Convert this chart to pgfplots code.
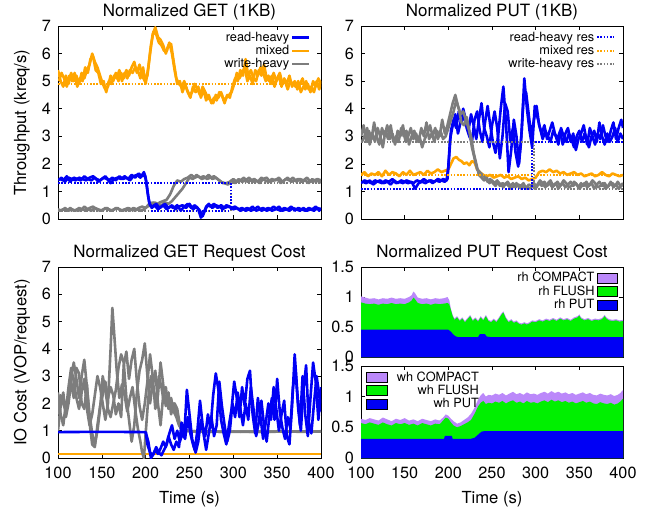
\documentclass[border=0pt]{standalone}
\usepackage{pgfplots}
\pgfplotsset{compat=1.18}
\usepackage{fontspec}
\setmainfont{TeX Gyre Heros}
\definecolor{cblue}{RGB}{0,0,245}
\definecolor{corange}{RGB}{255,165,0}
\definecolor{cgray}{RGB}{125,125,125}
\definecolor{cgreen}{RGB}{0,240,0}
\definecolor{cpurple}{RGB}{187,136,250}
\newcommand\tf{\fontsize{16.3}{19}\selectfont}
\newcommand\ttf{\fontsize{17}{20}\selectfont}
\newcommand\labf{\fontsize{16.7}{19}\selectfont}
\newcommand\lf{\fontsize{12.8}{14}\selectfont}
\pgfplotsset{
  base/.style={scale only axis, xmin=100, xmax=400, xtick={100,150,...,400},
    tick align=inside, major tick length=4bp,
    tick style={black, line width=0.6bp}, axis line style={line width=0.8bp},
    ticklabel style={font=\tf},
    xticklabel style={yshift=-5.5bp}, yticklabel style={xshift=-3.5bp},
    every axis title shift=0pt,
    title style={font=\ttf, at={(0.5,1)}, anchor=base, yshift=9.5bp},
    label style={font=\labf},
    /pgf/number format/assume math mode=true,
    legend style={draw=none, fill=none, font=\lf, inner sep=1bp, row sep=-1.5bp},
  },
  ln/.style={line width=2.6bp, line join=round},
  res/.style={line width=2bp, dash pattern=on 1.6bp off 1.6bp},
  legboxr/.style={legend image code/.code={\fill[##1] (0.3cm,-0.18cm) rectangle (1.04cm,0.18cm);}},
  legboxl/.style={legend image code/.code={\fill[##1] (0cm,-0.18cm) rectangle (0.74cm,0.18cm); \path (1.0cm,0);}},
}
\begin{document}
\begin{tikzpicture}
\useasboundingbox (0,0) rectangle (652bp,-509bp);
% ---------------- top-left
\begin{axis}[base, at={(58bp,-219bp)}, anchor=south west, width=263bp, height=193bp,
  ymin=0, ymax=7, ytick={0,...,7}, xticklabel=\empty,
  title={Normalized GET (1KB)},
  ylabel={Throughput (kreq/s)}, ylabel style={at={(axis description cs:-0.137,0.5)}, anchor=center},
  legend style={at={(0.965,0.985)}, anchor=north east}, legend cell align=right, legend plot pos=right]
\addlegendimage{cblue, line width=2.4bp}\addlegendentry{read-heavy}
\addlegendimage{corange, line width=2.4bp}\addlegendentry{mixed}
\addlegendimage{cgray, line width=2.4bp}\addlegendentry{write-heavy}
\addplot[corange, ln] coordinates {(100,5.4)(103,5.0)(106,4.8)(109,5.2)(112,4.9)(115,5.3)(118,5.0)(121,5.2)(124,4.9)(127,5.3)(130,5.1)(133,5.4)(136,5.6)(139,6.0)(142,5.7)(145,5.5)(148,5.2)(151,4.9)(154,4.7)(157,4.8)(160,5.2)(163,5.0)(166,5.3)(169,5.0)(172,5.3)(175,5.1)(178,5.4)(181,5.2)(184,5.5)(187,5.7)(190,5.3)(193,5.6)(196,5.2)(199,5.0)(202,5.2)(205,6.0)(208,6.7)(211,6.95)(214,6.6)(217,6.5)(220,6.3)(223,6.0)(226,6.3)(229,6.35)(232,5.7)(235,5.1)(238,4.9)(241,4.8)(244,5.0)(247,4.7)(250,4.5)(253,4.6)(256,4.9)(259,4.7)(262,4.5)(265,4.8)(268,4.6)(271,4.4)(274,4.3)(277,4.2)(280,4.5)(283,4.4)(286,4.6)(289,4.3)(292,4.4)(295,4.5)(298,4.6)(301,4.9)(304,5.3)(307,5.1)(310,5.3)(313,5.5)(316,5.0)(319,5.2)(322,4.9)(325,5.4)(328,5.2)(331,5.5)(334,5.3)(337,5.0)(340,5.2)(343,4.9)(346,5.3)(349,5.0)(352,5.2)(355,4.8)(358,5.1)(361,4.9)(364,5.2)(367,4.8)(370,5.0)(373,4.7)(376,4.9)(379,5.1)(382,4.7)(385,4.9)(388,4.6)(391,5.0)(394,4.8)(397,5.1)(400,4.9)};
\addplot[corange, ln] coordinates {(101,5.0)(104,5.3)(107,5.1)(110,4.8)(113,5.2)(116,5.0)(119,5.3)(122,4.8)(125,5.1)(128,5.0)(131,5.5)(134,5.3)(137,5.8)(140,5.9)(143,5.4)(146,5.3)(149,4.9)(152,5.0)(155,4.6)(158,5.0)(161,4.9)(164,5.2)(167,5.1)(170,5.4)(173,5.0)(176,5.3)(179,5.1)(182,5.4)(185,5.3)(188,5.5)(191,5.4)(194,5.1)(197,5.5)(200,4.9)(203,5.5)(206,6.3)(209,6.8)(212,6.7)(215,6.4)(218,6.3)(221,6.1)(224,6.1)(227,6.4)(230,6.0)(233,5.4)(236,4.9)(239,5.0)(242,4.6)(245,4.9)(248,4.6)(251,4.4)(254,4.8)(257,4.6)(260,4.8)(263,4.4)(266,4.7)(269,4.3)(272,4.5)(275,4.2)(278,4.4)(281,4.3)(284,4.6)(287,4.5)(290,4.2)(293,4.5)(296,4.4)(299,4.8)(302,5.1)(305,5.0)(308,5.4)(311,5.2)(314,5.8)(317,5.2)(320,5.4)(323,5.1)(326,5.0)(329,5.4)(332,5.2)(335,5.6)(338,5.1)(341,5.0)(344,5.2)(347,4.8)(350,5.1)(353,5.3)(356,4.9)(359,5.0)(362,4.7)(365,5.0)(368,4.9)(371,4.8)(374,5.0)(377,4.6)(380,4.8)(383,5.0)(386,4.7)(389,4.8)(392,4.6)(395,5.0)(398,4.7)(400,5.0)};
\addplot[cgray, ln] coordinates {(100,0.35)(104,0.3)(108,0.4)(112,0.3)(116,0.35)(120,0.3)(124,0.4)(128,0.35)(132,0.3)(136,0.4)(140,0.45)(144,0.35)(148,0.3)(152,0.35)(156,0.4)(160,0.3)(164,0.35)(168,0.4)(172,0.3)(176,0.35)(180,0.4)(184,0.35)(188,0.3)(192,0.4)(196,0.45)(200,0.4)(204,0.55)(208,0.6)(212,0.5)(216,0.6)(220,0.65)(224,0.7)(228,0.9)(232,1.2)(236,1.4)(240,1.35)(244,1.45)(248,1.5)(252,1.6)(256,1.5)(260,1.55)(264,1.45)(268,1.5)(272,1.6)(276,1.45)(280,1.5)(284,1.4)(288,1.3)(292,1.3)(296,1.35)(300,1.45)(304,1.35)(308,1.4)(312,1.5)(316,1.35)(320,1.4)(324,1.45)(328,1.35)(332,1.5)(336,1.4)(340,1.35)(344,1.45)(348,1.4)(352,1.5)(356,1.35)(360,1.45)(364,1.4)(368,1.5)(372,1.35)(376,1.45)(380,1.4)(384,1.5)(388,1.35)(392,1.4)(396,1.45)(400,1.4)};
\addplot[cgray, ln] coordinates {(102,0.3)(106,0.35)(110,0.3)(114,0.4)(118,0.3)(122,0.35)(126,0.3)(130,0.45)(134,0.35)(138,0.3)(142,0.4)(146,0.35)(150,0.3)(154,0.4)(158,0.35)(162,0.3)(166,0.4)(170,0.35)(174,0.3)(178,0.35)(182,0.3)(186,0.4)(190,0.35)(194,0.3)(198,0.35)(202,0.45)(206,0.5)(210,0.6)(214,0.55)(218,0.5)(222,0.6)(226,0.55)(230,0.65)(234,0.8)(238,0.95)(242,1.1)(246,1.3)(250,1.5)(254,1.45)(258,1.6)(262,1.5)(266,1.55)(270,1.45)(274,1.5)(278,1.55)(282,1.45)(286,1.35)(290,1.3)(294,1.25)(298,1.4)(302,1.3)(306,1.45)(310,1.35)(314,1.4)(318,1.5)(322,1.35)(326,1.4)(330,1.3)(334,1.45)(338,1.5)(342,1.35)(346,1.4)(350,1.45)(354,1.3)(358,1.4)(362,1.5)(366,1.35)(370,1.4)(374,1.45)(378,1.35)(382,1.4)(386,1.3)(390,1.45)(394,1.35)(398,1.4)(400,1.3)};
\addplot[cblue, ln] coordinates {(100,1.4)(104,1.5)(108,1.35)(112,1.5)(116,1.45)(120,1.4)(124,1.5)(128,1.45)(132,1.4)(136,1.5)(140,1.55)(144,1.45)(148,1.4)(152,1.5)(156,1.45)(160,1.3)(164,1.45)(168,1.5)(172,1.45)(176,1.55)(180,1.45)(184,1.6)(188,1.5)(192,1.65)(196,1.55)(199,1.6)(201,1.3)(203,0.8)(205,0.5)(208,0.45)(212,0.55)(216,0.4)(220,0.5)(224,0.35)(228,0.45)(232,0.4)(236,0.5)(240,0.3)(244,0.45)(248,0.55)(252,0.4)(256,0.5)(260,0.35)(263,0.05)(266,0.2)(269,0.45)(272,0.55)(276,0.4)(280,0.5)(284,0.45)(288,0.35)(292,0.5)(296,0.45)(300,0.35)(304,0.4)(308,0.3)(312,0.35)(316,0.4)(320,0.3)(324,0.35)(328,0.45)(332,0.3)(336,0.35)(340,0.4)(344,0.3)(348,0.35)(352,0.45)(356,0.3)(360,0.35)(364,0.3)(368,0.4)(372,0.35)(376,0.3)(380,0.4)(384,0.3)(388,0.35)(392,0.3)(396,0.4)(400,0.35)};
\addplot[cblue, ln] coordinates {(102,1.45)(106,1.4)(110,1.55)(114,1.35)(118,1.5)(122,1.45)(126,1.4)(130,1.55)(134,1.45)(138,1.4)(142,1.5)(146,1.35)(150,1.45)(154,1.55)(158,1.4)(162,1.5)(166,1.4)(170,1.55)(174,1.45)(178,1.5)(182,1.4)(186,1.55)(190,1.6)(194,1.5)(198,1.7)(200,1.5)(202,1.0)(204,0.6)(207,0.4)(210,0.5)(214,0.35)(218,0.45)(222,0.55)(226,0.4)(230,0.5)(234,0.35)(238,0.45)(242,0.5)(246,0.4)(250,0.55)(254,0.35)(258,0.45)(262,0.3)(265,0.1)(268,0.35)(271,0.5)(274,0.45)(278,0.55)(282,0.4)(286,0.5)(290,0.4)(294,0.45)(298,0.4)(302,0.45)(306,0.35)(310,0.4)(314,0.3)(318,0.35)(322,0.45)(326,0.3)(330,0.35)(334,0.4)(338,0.3)(342,0.35)(346,0.45)(350,0.35)(354,0.3)(358,0.4)(362,0.35)(366,0.45)(370,0.3)(374,0.4)(378,0.35)(382,0.3)(386,0.4)(390,0.35)(394,0.45)(398,0.3)(400,0.4)};
\addplot[cgray, res] coordinates {(100,0.3)(297,0.3)(297,1.3)(400,1.3)};
\addplot[corange, res] coordinates {(100,4.9)(400,4.9)};
\addplot[cblue, res] coordinates {(100,1.3)(297,1.3)(297,0.3)(205,0.3)};
\end{axis}
% ---------------- top-right
\begin{axis}[base, at={(361bp,-219bp)}, anchor=south west, width=262bp, height=193bp,
  ymin=0, ymax=7, ytick={0,...,7}, xticklabel=\empty,
  title={Normalized PUT (1KB)},
  legend style={at={(0.975,0.985)}, anchor=north east}, legend cell align=right, legend plot pos=right]
\addlegendimage{cblue, res}\addlegendentry{read-heavy res}
\addlegendimage{corange, res}\addlegendentry{mixed res}
\addlegendimage{cgray, res}\addlegendentry{write-heavy res}
\addplot[corange, ln] coordinates {(100,1.6)(104,1.7)(108,1.55)(112,1.65)(116,1.6)(120,1.7)(124,1.55)(128,1.75)(132,1.6)(136,1.7)(140,1.65)(144,1.55)(148,1.7)(152,1.6)(156,1.75)(160,1.6)(164,1.65)(168,1.7)(172,1.6)(176,1.75)(180,1.65)(184,1.7)(188,1.8)(192,1.7)(196,1.75)(200,1.8)(203,2.0)(206,2.2)(209,2.25)(212,2.15)(215,2.1)(218,2.0)(221,2.05)(224,1.95)(227,2.1)(230,2.05)(233,1.8)(236,1.7)(240,1.6)(244,1.55)(248,1.6)(252,1.5)(256,1.55)(260,1.6)(264,1.5)(268,1.55)(272,1.45)(276,1.5)(280,1.55)(284,1.45)(288,1.5)(292,1.4)(296,1.45)(300,1.5)(304,1.7)(308,1.75)(312,1.7)(316,1.8)(320,1.7)(324,1.75)(328,1.65)(332,1.7)(336,1.6)(340,1.65)(344,1.7)(348,1.6)(352,1.65)(356,1.55)(360,1.6)(364,1.65)(368,1.55)(372,1.6)(376,1.7)(380,1.6)(384,1.55)(388,1.65)(392,1.6)(396,1.55)(400,1.6)};
\addplot[cblue, ln] coordinates {(100,1.3)(104,1.4)(108,1.35)(112,1.3)(116,1.4)(120,1.35)(124,1.3)(128,1.4)(132,1.35)(136,1.45)(140,1.3)(144,1.35)(148,1.3)(152,1.4)(156,1.35)(160,1.3)(164,1.4)(168,1.35)(172,1.45)(176,1.35)(180,1.4)(184,1.35)(188,1.45)(192,1.4)(196,1.35)(199,1.45)(201,2.3)(203,3.2)(206,3.6)(209,3.3)(212,3.9)(215,3.5)(218,3.8)(221,3.3)(224,3.0)(227,2.8)(230,3.6)(233,3.9)(236,3.2)(239,2.8)(242,3.5)(245,4.1)(248,3.4)(251,2.8)(254,2.4)(257,3.0)(260,4.0)(263,4.8)(266,3.5)(269,1.7)(272,2.5)(275,3.6)(278,3.0)(281,2.0)(284,3.2)(287,5.1)(290,4.0)(293,3.2)(296,2.6)(299,4.1)(302,3.7)(305,3.3)(308,2.9)(311,3.2)(314,3.0)(317,2.8)(320,3.2)(323,3.0)(326,2.7)(329,3.3)(332,3.0)(335,2.8)(338,3.1)(341,2.9)(344,2.6)(347,3.0)(350,3.2)(353,2.8)(356,3.1)(359,2.7)(362,3.3)(365,3.0)(368,2.7)(371,3.1)(374,2.9)(377,3.4)(380,3.0)(383,2.8)(386,3.2)(389,3.5)(392,2.9)(395,3.3)(398,3.6)(400,3.3)};
\addplot[cblue, ln] coordinates {(102,1.35)(106,1.3)(110,1.4)(114,1.25)(118,1.35)(122,1.4)(126,1.3)(130,1.35)(134,1.25)(138,1.4)(142,1.3)(146,1.4)(150,1.35)(154,1.3)(158,1.35)(162,1.1)(166,1.3)(170,1.35)(174,1.3)(178,1.4)(182,1.3)(186,1.4)(190,1.35)(194,1.45)(198,1.4)(200,1.9)(202,2.9)(205,3.4)(208,3.8)(211,3.1)(214,3.5)(217,4.0)(220,3.6)(223,3.2)(226,3.8)(229,3.4)(232,2.9)(235,3.6)(238,4.2)(241,3.3)(244,3.0)(247,2.6)(250,3.4)(253,3.9)(256,3.3)(259,2.2)(262,3.0)(265,4.2)(268,3.9)(271,2.8)(274,3.3)(277,2.4)(280,1.9)(283,2.7)(286,4.3)(289,4.6)(292,3.8)(295,3.0)(298,3.6)(301,4.1)(304,3.4)(307,3.1)(310,3.4)(313,2.9)(316,3.2)(319,3.5)(322,3.1)(325,2.9)(328,3.2)(331,2.7)(334,3.1)(337,3.3)(340,2.8)(343,3.1)(346,2.5)(349,2.9)(352,3.1)(355,3.4)(358,2.9)(361,2.6)(364,3.0)(367,3.2)(370,2.8)(373,3.5)(376,3.0)(379,2.7)(382,3.1)(385,2.8)(388,3.0)(391,3.3)(394,2.8)(397,3.1)(400,2.9)};
\addplot[cgray, ln] coordinates {(100,3.0)(103,3.4)(106,2.8)(109,3.2)(112,2.9)(115,3.5)(118,3.0)(121,2.7)(124,3.3)(127,3.0)(130,3.4)(133,2.9)(136,3.1)(139,2.7)(142,3.2)(145,3.0)(148,3.4)(151,2.8)(154,3.0)(157,3.3)(160,2.9)(163,3.1)(166,2.8)(169,3.3)(172,3.0)(175,3.5)(178,2.9)(181,3.1)(184,2.8)(187,3.2)(190,3.0)(193,3.6)(196,3.1)(199,3.4)(202,3.8)(205,4.2)(208,4.5)(211,4.1)(214,3.8)(217,3.9)(220,3.6)(223,3.3)(226,3.0)(229,2.4)(232,2.0)(235,1.6)(238,1.5)(241,1.4)(244,1.5)(247,1.3)(250,1.4)(253,1.3)(256,1.4)(259,1.2)(262,1.3)(265,1.25)(268,1.35)(271,1.2)(274,1.3)(277,1.15)(280,1.25)(283,1.2)(286,1.3)(289,1.1)(292,1.25)(295,1.2)(298,1.3)(301,1.15)(304,1.3)(307,1.2)(310,1.35)(313,1.2)(316,1.3)(319,1.15)(322,1.25)(325,1.35)(328,1.2)(331,1.3)(334,1.15)(337,1.25)(340,1.35)(343,1.2)(346,1.3)(349,1.15)(352,1.3)(355,1.2)(358,1.35)(361,1.2)(364,1.3)(367,1.1)(370,1.25)(373,1.35)(376,1.2)(379,1.3)(382,1.15)(385,1.25)(388,1.3)(391,1.2)(394,1.35)(397,1.2)(400,1.3)};
\addplot[cgray, ln] coordinates {(101,2.8)(104,3.0)(107,3.3)(110,2.7)(113,3.1)(116,2.8)(119,3.3)(122,3.0)(125,2.6)(128,3.2)(131,2.9)(134,3.4)(137,2.8)(140,3.0)(143,2.8)(146,3.3)(149,3.0)(152,3.2)(155,2.7)(158,3.0)(161,3.2)(164,2.8)(167,3.0)(170,2.6)(173,2.9)(176,3.1)(179,3.4)(182,3.0)(185,3.3)(188,2.9)(191,3.2)(194,2.9)(197,3.0)(200,3.3)(203,3.6)(206,3.9)(209,4.3)(212,4.0)(215,3.5)(218,3.4)(221,3.7)(224,3.2)(227,2.6)(230,2.2)(233,1.8)(236,1.7)(239,1.6)(242,1.5)(245,1.35)(248,1.45)(251,1.3)(254,1.2)(257,1.35)(260,1.25)(263,1.15)(266,1.3)(269,1.2)(272,1.1)(275,1.2)(278,1.3)(281,1.15)(284,1.1)(287,1.2)(290,1.15)(293,1.1)(296,1.2)(299,1.1)(302,1.25)(305,1.4)(308,1.3)(311,1.15)(314,1.3)(317,1.4)(320,1.2)(323,1.3)(326,1.1)(329,1.25)(332,1.4)(335,1.3)(338,1.15)(341,1.2)(344,1.35)(347,1.25)(350,1.1)(353,1.2)(356,1.3)(359,1.15)(362,1.25)(365,1.4)(368,1.3)(371,1.15)(374,1.2)(377,1.3)(380,1.1)(383,1.2)(386,1.35)(389,1.15)(392,1.25)(395,1.1)(398,1.2)(400,1.25)};
\addplot[corange, res] coordinates {(100,1.6)(400,1.6)};
\addplot[cgray, res] coordinates {(100,2.8)(298,2.8)(298,1.1)(400,1.1)};
\addplot[cblue, res] coordinates {(100,1.1)(296,1.1)(296,2.8)(400,2.8)};
\end{axis}
% ---------------- bottom-left
\begin{axis}[base, at={(58bp,-458bp)}, anchor=south west, width=263bp, height=191bp,
  ymin=0, ymax=7, ytick={0,...,7},
  title={Normalized GET Request Cost},
  xlabel={Time (s)}, xlabel style={at={(axis description cs:0.5,0)}, anchor=center, yshift=-41bp},
  ylabel={IO Cost (VOP/request)}, ylabel style={at={(axis description cs:-0.137,0.5)}, anchor=center}]
\addplot[corange, ln] coordinates {(100,0.15)(400,0.15)};
\addplot[cgray, ln] coordinates {(100,1.6)(103,2.3)(106,2.0)(109,1.7)(112,2.6)(115,3.3)(118,2.8)(121,2.2)(124,1.8)(127,2.4)(130,2.9)(133,1.8)(136,1.2)(139,1.6)(142,2.3)(145,3.0)(148,2.6)(151,2.0)(154,1.4)(157,2.0)(160,4.0)(162,5.5)(164,4.6)(167,3.2)(170,2.2)(173,2.7)(176,2.3)(179,1.7)(182,2.2)(185,2.6)(188,1.8)(191,1.1)(194,0.6)(196,0.2)(198,0.0)(200,0.9)(203,2.2)(206,3.0)(209,2.5)(212,2.0)(215,3.0)(218,2.6)(221,2.0)(224,2.3)(227,2.1)(230,1.9)(233,2.0)(236,1.8)(238,1.4)(240,1.1)(244,1.0)(250,0.98)(260,0.97)(270,0.96)(280,0.97)(290,0.95)(300,0.96)(320,0.97)(340,0.96)(360,0.97)(380,0.96)(400,0.98)};
\addplot[cgray, ln] coordinates {(100,2.4)(103,1.6)(106,1.2)(109,2.0)(112,2.3)(115,3.0)(118,3.5)(121,2.9)(124,2.2)(127,3.0)(130,3.6)(133,2.6)(136,1.6)(139,0.9)(142,0.5)(145,1.0)(148,1.8)(151,3.0)(154,2.5)(157,1.8)(160,1.5)(163,2.0)(166,2.5)(169,3.3)(172,3.8)(175,3.5)(178,2.2)(181,1.4)(184,0.6)(187,1.2)(190,2.4)(193,3.2)(196,3.6)(199,4.2)(202,3.0)(205,2.0)(208,2.7)(211,3.2)(214,2.0)(217,1.2)(220,2.3)(223,2.6)(226,1.8)(229,2.2)(232,1.7)(235,1.5)(238,1.2)(241,1.05)(246,1.0)(255,0.98)(265,0.97)(275,0.98)(285,0.96)(300,0.97)(330,0.96)(360,0.97)(400,0.97)};
\addplot[cgray, ln] coordinates {(100,1.0)(103,1.9)(106,2.4)(109,1.5)(112,2.0)(115,2.8)(118,2.2)(121,3.3)(124,3.1)(127,2.0)(130,1.8)(133,2.7)(136,1.3)(139,0.5)(142,0.4)(145,1.2)(148,1.9)(151,2.3)(154,2.8)(157,2.2)(160,2.6)(163,2.3)(166,1.6)(169,2.0)(172,1.5)(175,3.4)(178,3.9)(181,2.9)(184,3.6)(187,4.0)(190,2.8)(193,1.9)(196,1.4)(199,2.0)(202,2.8)(205,3.8)(208,3.0)(211,1.8)(214,2.3)(217,3.5)(220,2.7)(223,1.9)(226,2.4)(229,1.6)(232,2.0)(235,1.6)(238,1.3)(241,1.1)(246,1.0)(256,0.98)(270,0.96)(290,0.97)(320,0.96)(350,0.97)(400,0.97)};
\addplot[cblue, ln] coordinates {(100,0.95)(150,0.96)(200,0.95)(202,0.5)(205,0.2)(208,0.1)(211,0.3)(214,0.15)(217,0.35)(220,0.6)(223,0.4)(226,0.8)(229,0.5)(232,0.3)(235,0.6)(238,0.4)(241,1.3)(244,0.8)(247,2.5)(250,1.6)(253,0.7)(256,0.3)(259,1.0)(262,2.1)(265,1.2)(268,0.8)(271,1.6)(274,1.1)(277,2.3)(280,3.1)(283,2.5)(286,1.4)(289,0.9)(292,0.5)(295,1.2)(298,1.8)(301,2.8)(304,2.2)(307,1.5)(310,2.6)(313,1.9)(316,2.9)(319,3.2)(322,1.6)(325,0.9)(328,2.2)(331,1.5)(334,0.7)(337,1.3)(340,2.0)(343,1.4)(346,2.6)(349,1.8)(352,1.0)(355,1.6)(358,2.1)(361,0.8)(364,0.5)(367,1.9)(370,3.8)(373,2.4)(376,1.2)(379,3.0)(382,1.6)(385,0.8)(388,2.2)(391,3.5)(394,2.8)(397,1.4)(400,2.6)};
\addplot[cblue, ln] coordinates {(200,0.95)(203,0.6)(206,0.0)(209,0.15)(212,0.4)(215,0.2)(218,0.1)(221,0.3)(224,0.5)(227,0.9)(230,1.2)(233,0.7)(236,1.0)(239,0.6)(242,0.9)(245,0.7)(248,1.5)(251,0.9)(254,0.5)(257,0.2)(260,0.6)(263,1.4)(266,0.9)(269,0.3)(272,0.9)(275,1.5)(278,0.8)(281,1.2)(284,2.8)(287,1.9)(290,1.2)(293,0.6)(296,1.0)(299,2.0)(302,1.5)(305,2.4)(308,1.8)(311,1.2)(314,2.0)(317,1.4)(320,2.6)(323,1.8)(326,0.8)(329,1.3)(332,2.1)(335,1.2)(338,0.6)(341,1.5)(344,2.2)(347,1.4)(350,2.9)(353,1.7)(356,1.1)(359,0.7)(362,1.5)(365,1.1)(368,2.6)(371,3.2)(374,1.8)(377,1.0)(380,2.5)(383,3.4)(386,1.3)(389,0.9)(392,2.0)(395,3.0)(398,2.3)(400,1.7)};
\end{axis}
% ---------------- bottom-right upper (rh)
\begin{axis}[base, at={(361bp,-357bp)}, anchor=south west, width=262bp, height=90bp,
  ymin=0, ymax=1.5, ytick={0,0.5,1,1.5}, xticklabel=\empty,
  title={Normalized PUT Request Cost},
  legend style={at={(0.985,0.975)}, anchor=north east}, legend cell align=right, legend plot pos=right]
\addlegendimage{legboxr, fill=cpurple}\addlegendentry{rh COMPACT}
\addlegendimage{legboxr, fill=cgreen}\addlegendentry{rh FLUSH}
\addlegendimage{legboxr, fill=cblue}\addlegendentry{rh PUT}
\addplot[fill=cpurple, draw=none] coordinates {(100,1.01)(105,0.99)(110,0.97)(115,0.98)(120,0.96)(125,0.98)(130,0.97)(135,0.99)(140,0.97)(145,0.98)(150,0.97)(155,1.0)(158,1.03)(160,1.09)(162,1.06)(165,0.99)(170,0.97)(175,0.98)(180,0.96)(185,0.98)(190,0.97)(195,0.98)(199,1.0)(201,0.95)(203,0.8)(205,0.7)(207,0.64)(210,0.68)(213,0.62)(216,0.66)(219,0.6)(222,0.65)(225,0.7)(228,0.62)(231,0.66)(234,0.61)(237,0.68)(240,0.63)(243,0.7)(246,0.62)(249,0.6)(252,0.64)(255,0.6)(258,0.66)(261,0.73)(263,0.76)(266,0.66)(269,0.6)(272,0.63)(275,0.59)(278,0.61)(281,0.57)(284,0.56)(287,0.58)(290,0.56)(293,0.58)(296,0.61)(300,0.6)(304,0.63)(308,0.61)(312,0.64)(316,0.62)(320,0.65)(324,0.62)(328,0.66)(332,0.63)(336,0.65)(340,0.62)(344,0.66)(348,0.68)(350,0.71)(352,0.66)(356,0.63)(360,0.65)(364,0.62)(368,0.64)(372,0.63)(376,0.65)(379,0.7)(381,0.66)(384,0.63)(388,0.62)(392,0.63)(396,0.61)(400,0.62)} \closedcycle;
\addplot[fill=cgreen, draw=none] coordinates {(100,0.91)(105,0.89)(110,0.88)(115,0.89)(120,0.87)(125,0.89)(130,0.88)(135,0.9)(140,0.88)(145,0.89)(150,0.88)(155,0.91)(158,0.94)(160,0.99)(162,0.96)(165,0.9)(170,0.88)(175,0.89)(180,0.87)(185,0.89)(190,0.88)(195,0.89)(199,0.9)(201,0.88)(203,0.78)(205,0.68)(207,0.62)(210,0.66)(213,0.6)(216,0.64)(219,0.58)(222,0.63)(225,0.68)(228,0.6)(231,0.64)(234,0.59)(237,0.66)(240,0.61)(243,0.68)(246,0.6)(249,0.58)(252,0.62)(255,0.58)(258,0.64)(261,0.71)(263,0.74)(266,0.64)(269,0.58)(272,0.61)(275,0.57)(278,0.59)(281,0.55)(284,0.54)(287,0.56)(290,0.54)(293,0.56)(296,0.59)(300,0.58)(304,0.61)(308,0.59)(312,0.62)(316,0.6)(320,0.63)(324,0.6)(328,0.64)(332,0.61)(336,0.63)(340,0.6)(344,0.64)(348,0.66)(350,0.69)(352,0.64)(356,0.61)(360,0.63)(364,0.6)(368,0.62)(372,0.61)(376,0.63)(379,0.68)(381,0.64)(384,0.61)(388,0.6)(392,0.61)(396,0.59)(400,0.6)} \closedcycle;
\addplot[fill=cblue, draw=none] coordinates {(100,0.455)(200,0.455)(203,0.42)(206,0.37)(209,0.34)(212,0.33)(234,0.33)(236,0.38)(242,0.38)(244,0.34)(250,0.33)(400,0.33)} \closedcycle;
\end{axis}
% ---------------- bottom-right lower (wh)
\begin{axis}[base, at={(361bp,-458bp)}, anchor=south west, width=262bp, height=92bp,
  ymin=0, ymax=1.5, ytick={0,0.5,1,1.5},
  xlabel={Time (s)}, xlabel style={at={(axis description cs:0.5,0)}, anchor=center, yshift=-41bp},
  legend style={at={(0.015,0.975)}, anchor=north west}, legend cell align=right, legend plot pos=left]
\addlegendimage{legboxl, fill=cpurple}\addlegendentry{wh COMPACT}
\addlegendimage{legboxl, fill=cgreen}\addlegendentry{wh FLUSH}
\addlegendimage{legboxl, fill=cblue}\addlegendentry{wh PUT}
\addplot[fill=cpurple, draw=none] coordinates {(100,0.64)(105,0.62)(110,0.65)(115,0.63)(120,0.61)(125,0.66)(130,0.63)(135,0.6)(140,0.64)(145,0.62)(150,0.65)(155,0.61)(160,0.63)(165,0.6)(170,0.64)(175,0.62)(180,0.6)(185,0.63)(190,0.61)(194,0.66)(197,0.71)(200,0.69)(203,0.64)(206,0.6)(210,0.56)(214,0.58)(218,0.62)(222,0.66)(226,0.72)(230,0.82)(234,0.95)(237,1.02)(240,1.06)(243,1.0)(246,1.03)(250,1.02)(254,1.05)(258,1.03)(262,1.06)(266,1.02)(270,1.05)(274,1.08)(278,1.04)(282,1.06)(286,1.03)(290,1.07)(294,1.04)(298,1.05)(302,1.03)(306,1.06)(310,1.08)(314,1.05)(318,1.09)(322,1.06)(326,1.08)(330,1.05)(334,1.07)(338,1.04)(342,1.06)(346,1.03)(350,1.05)(354,1.07)(358,1.04)(362,1.06)(366,1.03)(370,1.02)(374,1.05)(378,1.03)(382,1.02)(386,1.04)(390,1.01)(394,1.03)(397,1.06)(400,1.11)} \closedcycle;
\addplot[fill=cgreen, draw=none] coordinates {(100,0.57)(105,0.55)(110,0.58)(115,0.56)(120,0.54)(125,0.58)(130,0.55)(135,0.53)(140,0.57)(145,0.55)(150,0.57)(155,0.54)(160,0.56)(165,0.53)(170,0.57)(175,0.55)(180,0.53)(185,0.56)(190,0.55)(194,0.61)(197,0.66)(200,0.64)(203,0.58)(206,0.53)(210,0.5)(214,0.52)(218,0.55)(222,0.58)(226,0.62)(230,0.72)(234,0.84)(237,0.9)(240,0.93)(243,0.88)(246,0.9)(250,0.89)(254,0.92)(258,0.9)(262,0.93)(266,0.89)(270,0.92)(274,0.94)(278,0.9)(282,0.92)(286,0.89)(290,0.93)(294,0.9)(298,0.91)(302,0.89)(306,0.92)(310,0.94)(314,0.91)(318,0.95)(322,0.92)(326,0.94)(330,0.91)(334,0.93)(338,0.9)(342,0.92)(346,0.89)(350,0.91)(354,0.93)(358,0.9)(362,0.92)(366,0.89)(370,0.88)(374,0.91)(378,0.89)(382,0.88)(386,0.9)(390,0.87)(394,0.89)(397,0.92)(400,0.97)} \closedcycle;
\addplot[fill=cblue, draw=none] coordinates {(100,0.31)(195,0.31)(196,0.36)(204,0.36)(205,0.31)(225,0.31)(230,0.33)(234,0.38)(238,0.43)(242,0.44)(400,0.44)} \closedcycle;
\end{axis}
\end{tikzpicture}
\end{document}
